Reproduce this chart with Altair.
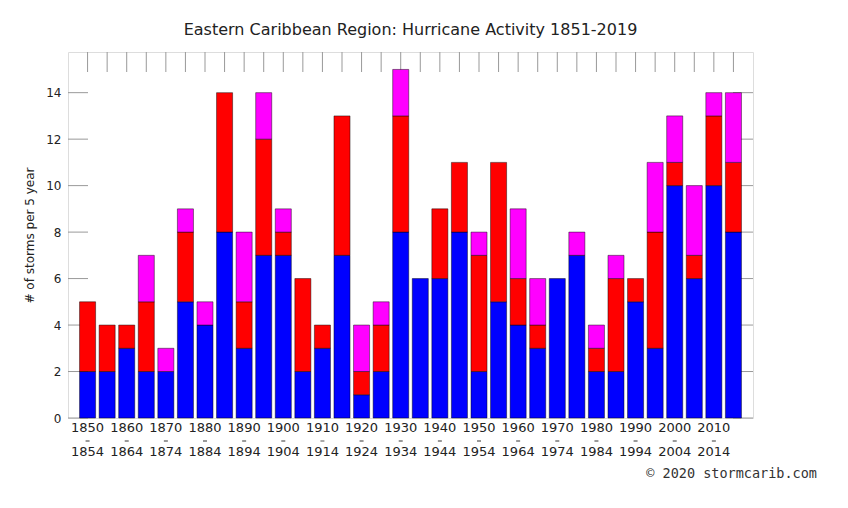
import altair as alt
import pandas as pd

# Data (5-year periods, 1850-1854 ... 2015-2019)
period_start = list(range(1850, 2020, 5))
blue_counts = [2, 2, 3, 2, 2, 5, 4, 8, 3, 7, 7, 2, 3, 7, 1, 2, 8, 6, 6, 8,
               2, 5, 4, 3, 6, 7, 2, 2, 5, 3, 10, 6, 10, 8]
red_counts = [3, 2, 1, 3, 0, 3, 0, 6, 2, 5, 1, 4, 1, 6, 1, 2, 5, 0, 3, 3,
              5, 6, 2, 1, 0, 0, 1, 4, 1, 5, 1, 1, 3, 3]
magenta_counts = [0, 0, 0, 2, 1, 1, 1, 0, 3, 2, 1, 0, 0, 0, 2, 1, 2, 0, 0, 0,
                  1, 0, 3, 2, 0, 1, 1, 1, 0, 3, 2, 3, 1, 3]
series_names = ["Tropical storms", "Hurricanes", "Major hurricanes"]
series_colors = ["#0000ff", "#ff0000", "#ff00ff"]
y_ticks = [0, 2, 4, 6, 8, 10, 12, 14]
copyright_text = ["\u00a9 2020 stormcarib.com"]

W, H = 685, 366

rows = []
for i, p in enumerate(period_start):
    for k, vals in enumerate([blue_counts, red_counts, magenta_counts]):
        if vals[i] > 0:
            rows.append({"period": str(p), "series": series_names[k],
                         "order": k, "count": vals[i]})
df = pd.DataFrame(rows)
periods_df = pd.DataFrame({"period": [str(p) for p in period_start]})
decade_df = pd.DataFrame({"period": [str(p) for p in period_start if p % 10 == 0]})
yt_df = pd.DataFrame({"v": y_ticks})
copy_df = pd.DataFrame({"t": copyright_text})

font = "DejaVu Sans"
x_scale = alt.Scale(domain=[str(p) for p in period_start], paddingInner=0.18, paddingOuter=0.59)
y_scale = alt.Scale(domain=[0, 15.75], nice=False, zero=True)

x_axis = alt.Axis(title=None, ticks=False, domain=False, labelAngle=0,
                  labelOverlap=False, labelFont=font, labelFontSize=13,
                  labelColor="#222", labelPadding=3, labelLineHeight=24,
                  labelExpr="toNumber(datum.value) % 10 == 0 ? [datum.value, toString(toNumber(datum.value) + 4)] : ''")
y_axis = alt.Axis(values=y_ticks, ticks=False, domain=False, grid=False,
                  labelFont=font, labelFontSize=12, labelColor="#222",
                  labelPadding=7, title="# of storms per 5 year",
                  titleFont=font, titleFontSize=12, titleFontWeight="normal",
                  titleColor="#222", titlePadding=9)

top_ticks = alt.Chart(periods_df).mark_rule(color="#999", strokeWidth=1).encode(
    x=alt.X("period:O", scale=x_scale, sort=None, axis=x_axis),
    y=alt.value(0), y2=alt.value(20))

left_ticks = alt.Chart(yt_df).mark_rule(color="#999", strokeWidth=1).encode(
    y=alt.Y("v:Q", scale=y_scale, axis=y_axis),
    x=alt.value(0), x2=alt.value(20))

right_ticks = alt.Chart(yt_df).mark_rule(color="#999", strokeWidth=1).encode(
    y=alt.Y("v:Q", scale=y_scale, axis=y_axis),
    x=alt.value(W - 20), x2=alt.value(W))

bars = alt.Chart(df).mark_bar(stroke="#000", strokeWidth=1, strokeOpacity=0.45).encode(
    x=alt.X("period:O", scale=x_scale, sort=None, axis=x_axis),
    y=alt.Y("count:Q", stack="zero", scale=y_scale, axis=y_axis),
    color=alt.Color("series:N", scale=alt.Scale(domain=series_names, range=series_colors), legend=None),
    order=alt.Order("order:Q"),
)

# the small dash between the two years of each label
dashes = alt.Chart(decade_df).mark_tick(orient="horizontal", size=4, thickness=1.2,
                                        color="#555", opacity=1).encode(
    x=alt.X("period:O", scale=x_scale, sort=None, axis=x_axis),
    y=alt.value(H + 23))

copyright = alt.Chart(copy_df).mark_text(font="DejaVu Sans Mono", fontSize=13.5, color="#333",
                                         align="right", baseline="middle").encode(
    text="t:N", x=alt.value(749), y=alt.value(422))

chart = alt.layer(top_ticks, left_ticks, right_ticks, bars, dashes, copyright).properties(
    width=W, height=H,
    title=alt.TitleParams("Eastern Caribbean Region: Hurricane Activity 1851-2019",
                          font=font, fontSize=16, fontWeight="normal", color="#222",
                          anchor="middle", offset=14),
    autosize=alt.AutoSizeParams(type="none"),
    padding={"left": 60, "top": 44, "right": 86, "bottom": 82},
).configure_view(stroke="#999", strokeWidth=1).configure(background="white")

chart.save("out.html", embed_options={"renderer": "svg", "actions": False})
